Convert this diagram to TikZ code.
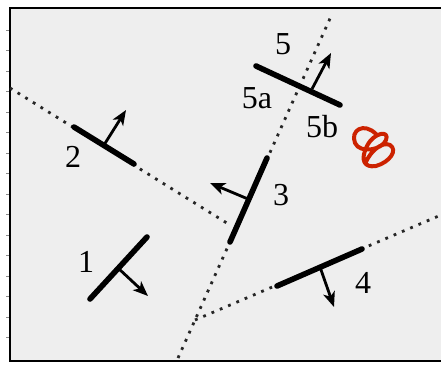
\documentclass[tikz,border=0pt]{standalone}
\usepackage{fontspec}
\setmainfont{Liberation Serif}
\usetikzlibrary{arrows.meta, calc}
\definecolor{PanelGray}{HTML}{EEEEEE}
\definecolor{TickGray}{HTML}{8A8A8A}
\definecolor{MarkRed}{HTML}{CC2200}
\tikzset{
  wallseg/.style={line width=5.6pt, line cap=round, draw=black},
  dotline/.style={line width=2.8pt, draw=black!85, dash pattern=on 2.8pt off 6.2pt},
  normalarrow/.style={-{Stealth[length=15pt, width=12pt, inset=4pt]}, line width=2.8pt, draw=black},
  lbl/.style={inner sep=0pt, font=\fontsize{32}{32}\selectfont},
  frameline/.style={line width=2.2pt, draw=black}
}

\begin{document}
\begin{tikzpicture}[x=1pt, y=-1pt]
\useasboundingbox (0,0) rectangle (441,364);
% panel
\fill[PanelGray] (10,8) rectangle (460,361);
\foreach \k in {0,...,15}
  \draw[TickGray, line width=1pt] (6,30+20.5*\k) -- (10,30+20.5*\k);
\draw[frameline] (460,8) -- (10,8) -- (10,361) -- (460,361);

% dotted lines
\coordinate (a1) at (10,88);
\coordinate (a2) at (230,225);
\coordinate (b1) at (178,358);
\coordinate (b2) at (332,14);
\coordinate (c1) at (195,320);
\coordinate (c2) at (441,215);
\draw[dotline] (a1) -- (a2);
\draw[dotline] (b1) -- (b2);
\draw[dotline] (c1) -- (c2);

% wall segments
\coordinate (s1a) at (90,299);  \coordinate (s1b) at (147,237);
\coordinate (s2a) at (74,127);  \coordinate (s2b) at (134,164);
\coordinate (s3a) at (230,242); \coordinate (s3b) at (267,158);
\coordinate (s4a) at (277,286); \coordinate (s4b) at (362,249);
\coordinate (s5a) at (256,66);  \coordinate (s5b) at (340,105);
\foreach \s in {1,...,5}
  \draw[wallseg] (s\s a) -- (s\s b);

% normals
\coordinate (n1a) at (118,268); \coordinate (n1b) at (148,296);
\coordinate (n2a) at (104,145); \coordinate (n2b) at (126,110);
\coordinate (n3a) at (248,199); \coordinate (n3b) at (210,183);
\coordinate (n4a) at (320,267); \coordinate (n4b) at (334,307);
\coordinate (n5a) at (312,89);  \coordinate (n5b) at (331,53);
\foreach \s in {1,...,5}
  \draw[normalarrow] (n\s a) -- (n\s b);

% labels
\node[lbl] (l1) at (86,262) {1};
\node[lbl] (l2) at (73,157) {2};
\node[lbl] (l3) at (281,195) {3};
\node[lbl] (l4) at (363,283) {4};
\node[lbl] (l5) at (283,44) {5};
\node[lbl] (l5a) at (257,98) {5a};
\node[lbl] (l5b) at (322,127) {5b};

% red mark
\draw[MarkRed, line width=4pt, line cap=round, line join=round]
  (376,134) .. controls (364,122) and (350,130) .. (355,143)
  .. controls (360,154) and (382,150) .. (386,140)
  .. controls (390,130) and (374,132) .. (367,146)
  .. controls (360,160) and (364,168) .. (376,166)
  .. controls (390,162) and (398,150) .. (390,145)
  .. controls (382,141) and (370,152) .. (366,162);
\end{tikzpicture}
\end{document}
